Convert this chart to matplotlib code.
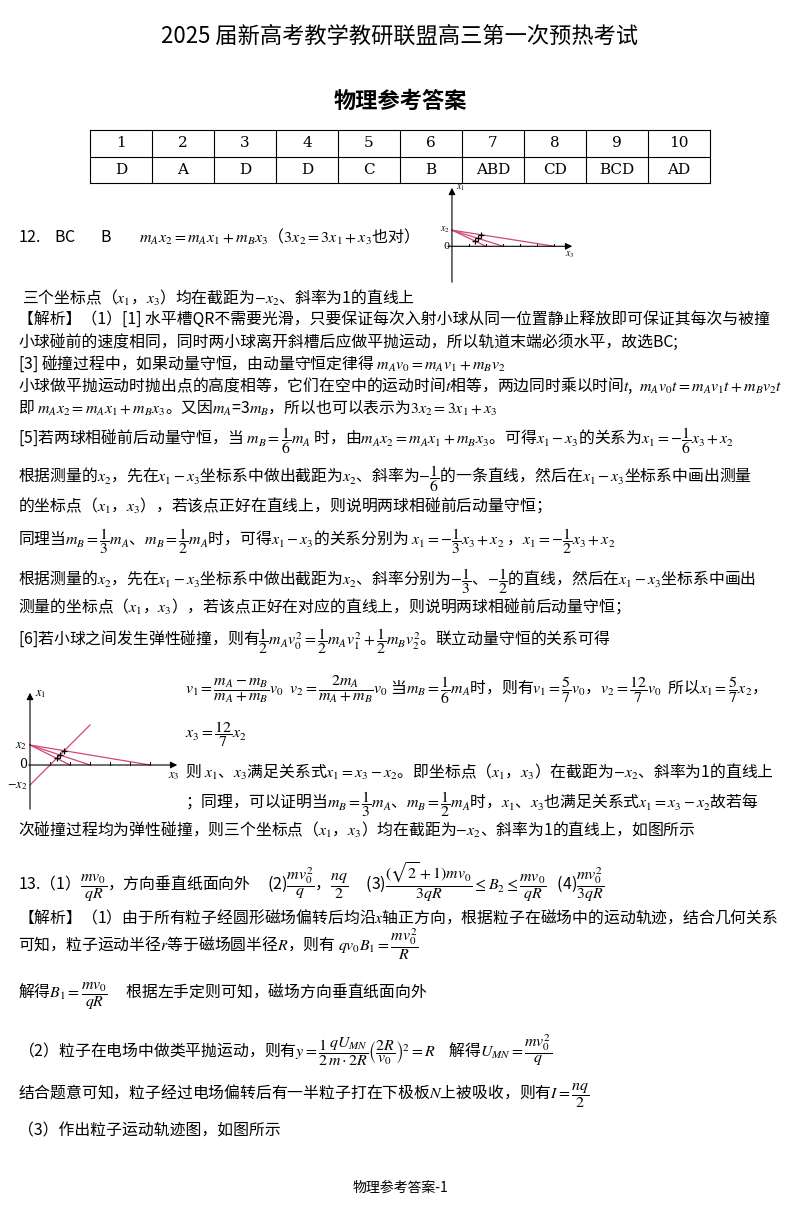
import matplotlib
matplotlib.use("Agg")
from matplotlib import pyplot as plt
import numpy as np

plt.rcParams['font.family'] = ['Noto Sans CJK SC', 'DejaVu Sans']
plt.rcParams['mathtext.fontset'] = 'stix'

# table of answers
questions = ["1", "2", "3", "4", "5", "6", "7", "8", "9", "10"]
answers = ["D", "A", "D", "D", "C", "B", "ABD", "CD", "BCD", "AD"]

# slopes of the x1-x3 lines (mB/mA = 1/6, 1/3, 1/2), intercept x2 = 1
slopes = [-1/6, -1/3, -1/2]
x2 = 1.0
# elastic collision points (x3, x1)
pts_x3 = [12/7, 3/2, 4/3]
pts_x1 = [5/7, 1/2, 1/3]

W, H = 800, 1207
fig = plt.figure(figsize=(W/100, H/100), dpi=100)
fig.patch.set_facecolor('white')

def T(x, y, s, size=11.5, **kw):
    kw.setdefault('va', 'center')
    fig.text(x / W, 1 - y / H, s, fontsize=size, **kw)

T(400, 36, "2025 届新高考教学教研联盟高三第一次预热考试", size=16, ha='center')
T(400, 101, "物理参考答案", size=16, ha='center', weight='bold')

# answer table
tab = fig.add_axes([90/W, 1-183/H, 620/W, 53/H])
tab.set_xlim(0, 10); tab.set_ylim(0, 2)
tab.set_xticks([]); tab.set_yticks([])
for sp in tab.spines.values():
    sp.set_linewidth(0.8)
for i in range(1, 10):
    tab.axvline(i, color='black', lw=0.8)
tab.axhline(1, color='black', lw=0.8)
for i, (q, a) in enumerate(zip(questions, answers)):
    tab.text(i + 0.5, 1.5, q, ha='center', va='center', fontsize=11, family='DejaVu Serif')
    tab.text(i + 0.5, 0.5, a, ha='center', va='center', fontsize=11, family='DejaVu Serif')

T(18, 237, "12.    BC       B        $m_Ax_2=m_Ax_1+m_Bx_3$（$3x_2=3x_1+x_3$也对）", size=11.5)

def graph(rect, xlim, ylim, with_slope1, labsize):
    ax = fig.add_axes(rect)
    ax.set_xlim(*xlim); ax.set_ylim(*ylim)
    ax.axis('off')
    ax.annotate("", xy=(xlim[1], 0), xytext=(xlim[0] + 0.3, 0),
                arrowprops=dict(arrowstyle='-|>', color='black', lw=0.8))
    ax.annotate("", xy=(0, ylim[1]), xytext=(0, ylim[0]),
                arrowprops=dict(arrowstyle='-|>', color='black', lw=0.8))
    for t in range(1, int(xlim[1])):
        ax.plot([t, t], [0, 0.15], color='black', lw=0.7)
    for k in slopes:
        xs = np.array([0, -x2 / k])
        ax.plot(xs, k * xs + x2, color='#d2457a', lw=0.9)
    if with_slope1:
        xs = np.array([0, 3])
        ax.plot(xs, xs - x2, color='#d2457a', lw=0.9)
        ax.text(-0.15, -x2, "$-x_2$", ha='right', va='center', fontsize=labsize)
    ax.plot(pts_x3, pts_x1, '+', color='black', ms=5, mew=0.9)
    ax.text(-0.15, x2, "$x_2$", ha='right', va='center', fontsize=labsize)
    ax.text(-0.15, 0, "0", ha='right', va='center', fontsize=labsize, family='DejaVu Serif')
    ax.text(0.25, ylim[1] - 0.2, "$x_1$", ha='left', va='center', fontsize=labsize)
    ax.text(xlim[1] - 0.3, -0.5, "$x_3$", ha='center', va='center', fontsize=labsize)

graph([440/W, 1-285/H, 135/W, 100/H], (-0.7, 7.2), (-2.4, 3.8), False, 7)
graph([20/W, 1-812/H, 160/W, 122/H], (-0.5, 7.5), (-2.35, 3.75), True, 9)

lines = [
    (22, 298, "三个坐标点（$x_1$，$x_3$）均在截距为$-x_2$、斜率为1的直线上"),
    (18, 320, "【解析】（1）[1] 水平槽QR不需要光滑，只要保证每次入射小球从同一位置静止释放即可保证其每次与被撞"),
    (18, 342, "小球碰前的速度相同，同时两小球离开斜槽后应做平抛运动，所以轨道末端必须水平，故选BC;"),
    (18, 364, "[3] 碰撞过程中，如果动量守恒，由动量守恒定律得 $m_Av_0=m_Av_1+m_Bv_2$"),
    (18, 386, "小球做平抛运动时抛出点的高度相等，它们在空中的运动时间$t$相等，两边同时乘以时间$t$,  $m_Av_0t=m_Av_1t+m_Bv_2t$"),
    (18, 408, "即 $m_Ax_2=m_Ax_1+m_Bx_3$。又因$m_A$=3$m_B$，所以也可以表示为$3x_2=3x_1+x_3$"),
    (18, 441, "[5]若两球相碰前后动量守恒，当 $m_B=\\dfrac{1}{6}m_A$ 时，由$m_Ax_2=m_Ax_1+m_Bx_3$。可得$x_1-x_3$的关系为$x_1=-\\dfrac{1}{6}x_3+x_2$"),
    (18, 479, "根据测量的$x_2$，先在$x_1-x_3$坐标系中做出截距为$x_2$、斜率为$-\\dfrac{1}{6}$的一条直线，然后在$x_1-x_3$坐标系中画出测量"),
    (18, 505, "的坐标点（$x_1$，$x_3$），若该点正好在直线上，则说明两球相碰前后动量守恒；"),
    (18, 541, "同理当$m_B=\\dfrac{1}{3}m_A$、$m_B=\\dfrac{1}{2}m_A$时，可得$x_1-x_3$的关系分别为 $x_1=-\\dfrac{1}{3}x_3+x_2$ ，$x_1=-\\dfrac{1}{2}x_3+x_2$"),
    (18, 581, "根据测量的$x_2$，先在$x_1-x_3$坐标系中做出截距为$x_2$、斜率分别为$-\\dfrac{1}{3}$、$-\\dfrac{1}{2}$的直线，然后在$x_1-x_3$坐标系中画出"),
    (18, 606, "测量的坐标点（$x_1$，$x_3$），若该点正好在对应的直线上，则说明两球相碰前后动量守恒；"),
    (18, 641, "[6]若小球之间发生弹性碰撞，则有$\\dfrac{1}{2}m_Av_0^2=\\dfrac{1}{2}m_Av_1^2+\\dfrac{1}{2}m_Bv_2^2$。联立动量守恒的关系可得"),
    (185, 690, "$v_1=\\dfrac{m_A-m_B}{m_A+m_B}v_0$  $v_2=\\dfrac{2m_A}{m_A+m_B}v_0$ 当$m_B=\\dfrac{1}{6}m_A$时，则有$v_1=\\dfrac{5}{7}v_0$，$v_2=\\dfrac{12}{7}v_0$  所以$x_1=\\dfrac{5}{7}x_2$，"),
    (185, 734, "$x_3=\\dfrac{12}{7}x_2$"),
    (185, 772, "则 $x_1$、$x_3$满足关系式$x_1=x_3-x_2$。即坐标点（$x_1$，$x_3$）在截距为$-x_2$、斜率为1的直线上"),
    (185, 804, "；同理，可以证明当$m_B=\\dfrac{1}{3}m_A$、$m_B=\\dfrac{1}{2}m_A$时，$x_1$、$x_3$也满足关系式$x_1=x_3-x_2$故若每"),
    (18, 830, "次碰撞过程均为弹性碰撞，则三个坐标点（$x_1$，$x_3$）均在截距为$-x_2$、斜率为1的直线上，如图所示"),
    (18, 882, "13.（1）$\\dfrac{mv_0}{qR}$，方向垂直纸面向外     (2)$\\dfrac{mv_0^2}{q}$，$\\dfrac{nq}{2}$     (3)$\\dfrac{(\\sqrt{2}+1)mv_0}{3qR}\\leq B_2\\leq\\dfrac{mv_0}{qR}$   (4)$\\dfrac{mv_0^2}{3qR}$"),
    (18, 918, "【解析】（1）由于所有粒子经圆形磁场偏转后均沿$x$轴正方向，根据粒子在磁场中的运动轨迹，结合几何关系"),
    (18, 944, "可知，粒子运动半径$r$等于磁场圆半径$R$，则有 $qv_0B_1=\\dfrac{mv_0^2}{R}$"),
    (18, 996, "解得$B_1=\\dfrac{mv_0}{qR}$     根据左手定则可知，磁场方向垂直纸面向外"),
    (18, 1050, "（2）粒子在电场中做类平抛运动，则有$y=\\dfrac{1}{2}\\dfrac{qU_{MN}}{m\\cdot 2R}\\left(\\dfrac{2R}{v_0}\\right)^2=R$    解得$U_{MN}=\\dfrac{mv_0^2}{q}$"),
    (18, 1096, "结合题意可知，粒子经过电场偏转后有一半粒子打在下极板$N$上被吸收，则有$I=\\dfrac{nq}{2}$"),
    (18, 1131, "（3）作出粒子运动轨迹图，如图所示"),
]
for x, y, s in lines:
    T(x, y, s, size=11.4)

T(400, 1188, "物理参考答案-1", size=10, ha='center')

fig.savefig("out.png", dpi=100)
